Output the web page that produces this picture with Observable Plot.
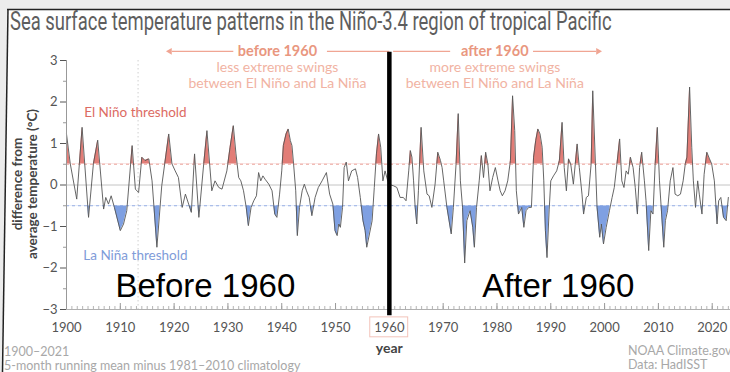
<!DOCTYPE html>
<html>
<head>
<meta charset="utf-8">
<script src="https://cdn.jsdelivr.net/npm/d3@7"></script>
<script src="https://cdn.jsdelivr.net/npm/@observablehq/plot@0.6"></script>
<style>
  html, body { margin: 0; padding: 0; background: #fff; }
  #wrap { position: relative; width: 730px; height: 372px; overflow: hidden; background: #fff; font-family: Lato, sans-serif; }
  #chart { position: absolute; left: 0; top: 0; }
  #overlay { position: absolute; left: 0; top: 0; pointer-events: none; }
</style>
</head>
<body>
<div id="wrap">
  <div id="chart"></div>
  <svg id="overlay" width="730" height="372">
    <rect x="0" y="0" width="730" height="9" fill="#ececec"></rect>
    <polygon points="0,0 8,0 8,9 2,372 0,372" fill="#ececec"></polygon>
    <line x1="7" y1="9.5" x2="730" y2="9.5" stroke="#222" stroke-width="1.5"></line>
    <line x1="8" y1="9" x2="2.5" y2="372" stroke="#222" stroke-width="1.5"></line>
    <text id="title" transform="translate(10,30)" font-family="Roboto, sans-serif" font-size="25" fill="#5e5e5e">Sea surface temperature patterns in the Niño-3.4 region of tropical Pacific</text>
    <text transform="translate(22,184) rotate(-90)" text-anchor="middle" font-family="Lato, sans-serif" font-weight="bold" font-size="13.5" fill="#444">difference from</text>
    <text transform="translate(37,184) rotate(-90)" text-anchor="middle" font-family="Lato, sans-serif" font-weight="bold" font-size="13.5" fill="#444">average temperature (°C)</text>
    <text x="4" y="356" font-family="Lato, sans-serif" font-size="12.5" fill="#a8a8a8">1900–2021</text>
    <text x="4" y="370" font-family="Lato, sans-serif" font-size="12.5" fill="#a8a8a8">5-month running mean minus 1981–2010 climatology</text>
    <text x="628" y="355" font-family="Lato, sans-serif" font-size="12.5" fill="#a8a8a8">NOAA Climate.gov</text>
    <text x="628" y="369" font-family="Lato, sans-serif" font-size="12.5" fill="#a8a8a8">Data: HadISST</text>
  </svg>
</div>
<script>
// ---- data (5-month running mean anomaly, °C) ----
const tYear = [
  1900.0,1900.7,1901.9,1902.9,1904.1,1905.0,1905.8,1906.9,1907.3,1907.8,1908.3,1908.9,1910.0,1910.6,1911.2,1912.2,1912.8,1913.4,1914.0,1914.6,
  1915.3,1915.9,1916.8,1917.7,1919.0,1919.6,1920.2,1920.8,1921.5,1922.1,1922.7,1923.2,1923.8,1924.6,1925.5,1926.1,1927.0,1927.6,1928.3,1928.9,
  1929.8,1930.4,1931.0,1931.5,1932.0,1932.4,1932.9,1933.4,1933.8,1934.3,1934.8,1935.3,1935.7,1936.1,1936.5,1936.9,1937.6,1938.2,1938.7,1939.1,
  1939.6,1940.0,1940.3,1940.8,1941.2,1941.6,1941.9,1942.2,1942.6,1942.9,1943.3,1943.8,1944.2,1944.6,1945.1,1945.6,1946.2,1946.8,1947.5,1948.3,
  1948.9,1949.5,1949.9,1950.3,1950.6,1950.9,1951.3,1951.6,1952.0,1952.4,1953.0,1953.7,1954.1,1954.6,1955.1,1955.5,1955.8,1956.3,1956.8,1957.2,
  1957.6,1958.0,1958.4,1958.8,1959.2,1959.7,1960.3,1960.8,1961.4,1962.0,1962.6,1963.1,1963.6,1963.9,1964.2,1964.5,1964.8,1965.1,1965.4,1965.9,
  1966.4,1967.0,1967.4,1967.9,1968.5,1969.0,1969.5,1969.8,1970.1,1970.7,1971.2,1971.5,1971.9,1972.4,1972.8,1973.2,1973.6,1974.0,1974.4,1975.0,
  1975.5,1975.8,1976.2,1976.7,1977.1,1977.5,1977.9,1978.3,1978.7,1979.2,1979.7,1980.2,1980.6,1981.0,1981.5,1982.0,1982.5,1982.9,1983.3,1983.6,
  1984.0,1984.6,1985.0,1985.4,1985.9,1986.4,1986.8,1987.2,1987.6,1988.0,1988.4,1988.7,1989.0,1989.3,1989.7,1990.0,1990.5,1991.1,1991.6,1992.1,
  1992.5,1992.9,1993.3,1993.7,1994.2,1994.9,1995.3,1995.8,1996.1,1996.6,1997.0,1997.5,1997.8,1998.3,1998.6,1999.1,1999.4,1999.8,2000.3,2000.9,
  2001.4,2001.8,2002.3,2002.8,2003.2,2003.6,2004.0,2004.4,2004.8,2005.3,2005.7,2006.1,2006.5,2006.9,2007.4,2007.7,2008.2,2008.6,2009.0,2009.4,
  2009.8,2010.2,2010.6,2011.0,2011.3,2011.7,2012.2,2012.7,2013.1,2013.6,2014.1,2014.6,2015.0,2015.3,2015.8,2016.2,2016.5,2016.9,2017.3,2017.6,
  2018.1,2018.5,2019.0,2019.5,2019.9,2020.4,2020.9,2021.2,2021.6,2022.1,2022.6,2023.0
];
const anomaly = [
  1.23,0.51,-0.34,1.39,-0.78,0.51,1.08,-0.58,-0.30,-0.46,-0.26,-0.54,-1.10,-0.94,-0.62,0.95,-0.10,-0.18,0.67,0.59,
  0.63,0.10,-1.50,-0.02,1.23,0.51,0.34,0.18,-0.54,-0.22,-0.46,-0.66,0.75,-0.78,0.51,1.31,-0.14,0.10,-0.06,-0.10,
  0.34,0.91,1.43,0.75,0.18,0.10,-0.14,-0.54,-0.98,-0.54,-0.38,-0.26,0.30,0.10,0.22,0.14,0.02,-0.14,-0.70,-0.78,
  -0.22,0.34,0.95,1.23,1.35,1.07,0.95,0.51,-0.14,-1.22,-0.54,-0.14,0.02,-0.14,-0.30,-0.74,-0.30,-0.06,0.10,0.30,
  -0.22,-0.46,-1.10,-1.22,-0.94,-1.02,-0.54,0.42,0.55,0.10,0.34,0.39,0.18,-0.30,-0.86,-1.10,-1.50,-1.18,-0.86,-0.06,
  0.75,1.23,0.91,0.10,0.34,0.10,0.00,-0.02,-0.06,-0.30,-0.30,-0.38,0.34,0.83,0.67,0.10,-0.54,-0.94,-0.14,1.39,
  0.34,-0.22,-0.26,-0.54,0.02,0.79,0.59,0.42,0.10,-0.54,-0.94,-1.18,-0.54,0.51,1.72,0.10,-0.54,-1.88,-0.86,-0.62,
  -1.02,-1.50,-0.54,0.10,0.71,0.18,0.79,0.51,-0.14,0.18,0.42,0.10,-0.14,-0.26,-0.14,0.10,0.59,2.15,1.31,-0.14,
  -0.70,-0.54,-1.02,-0.62,-0.54,-0.54,0.67,1.07,1.35,1.23,0.91,0.10,-1.10,-1.75,-0.60,0.10,0.22,0.34,0.59,1.51,
  0.42,-0.14,0.63,0.51,0.02,0.99,0.42,-0.22,-0.70,-0.30,-0.26,0.51,2.27,0.51,-0.54,-1.26,-0.94,-1.42,-1.02,-0.62,
  -0.30,-0.06,0.51,1.11,0.10,-0.06,0.34,0.26,0.67,0.42,-0.06,-0.70,0.42,0.79,0.10,-0.38,-1.58,-0.62,-0.70,0.51,
  1.39,0.10,-0.70,-1.50,-0.86,-0.62,0.10,0.42,-0.22,-0.26,-0.22,0.10,0.51,0.67,2.36,0.91,0.10,-0.54,0.10,-0.22,
  -0.70,0.26,0.79,0.63,0.51,0.10,-0.94,-0.38,-0.30,-0.78,-0.86,-0.30
];
const decadeTicks = [1900,1910,1920,1930,1940,1950,1960,1970,1980,1990,2000,2010,2020];
const yearTicks = d3.range(1900, 2024);
const yMajorTicks = [-3,-2,-1,0,1,2,3];
const yMinorTicks = [-2.5,-1.5,-0.5,0.5,1.5,2.5];
const elNinoThreshold = 0.5;
const laNinaThreshold = -0.5;
const splitYear = 1960;
const beforeLines = ["before 1960", "less extreme swings", "between El Niño and La Niña"];
const afterLines = ["after 1960", "more extreme swings", "between El Niño and La Niña"];
const thresholdLabels = ["El Niño threshold", "La Niña threshold"];
const bigLabels = ["Before 1960", "After 1960"];

const data = tYear.map((t, i) => ({t, v: anomaly[i]}));
const salmon = "#e9977f", salmonLight = "#f1b3a3", arrowColor = "#f0a593";

const chart = Plot.plot({
  width: 730,
  height: 372,
  marginLeft: 66,
  marginRight: 0,
  marginTop: 60,
  marginBottom: 63,
  style: {background: "transparent", fontFamily: "Lato, sans-serif", overflow: "visible"},
  x: {domain: [1900, 2023.4], axis: null},
  y: {domain: [-3, 3], axis: null},
  marks: [
    Plot.ruleX([1913.3], {stroke: "#cfcfcf", strokeDasharray: "1.5,2.5"}),
    Plot.ruleY([0], {stroke: "#c4c4c4", strokeWidth: 1}),
    Plot.ruleY([elNinoThreshold], {stroke: "#eba79f", strokeDasharray: "3,3", strokeWidth: 1}),
    Plot.ruleY([laNinaThreshold], {stroke: "#9db2e4", strokeDasharray: "3,3", strokeWidth: 1}),
    Plot.areaY(data, {x: "t", y1: elNinoThreshold, y2: "v", fill: "#e27d77"}),
    Plot.areaY(data, {x: "t", y1: laNinaThreshold, y2: "v", fill: "#7fa0e2"}),
    Plot.lineY(data, {x: "t", y: "v", stroke: "#555", strokeWidth: 0.9}),
    // axes
    Plot.ruleX([1900], {stroke: "#999"}),
    Plot.ruleY([-3], {stroke: "#b0b0b0"}),
    Plot.axisY({ticks: yMajorTicks, tickSize: 6, tickPadding: 3, fontSize: 13, color: "#555", label: null,
      tickFormat: d => d < 0 ? "\u2212" + Math.abs(d) : String(d)}),
    Plot.axisY({ticks: yMinorTicks, tickSize: 3, color: "#999", label: null, tickFormat: () => ""}),
    Plot.tickX(yearTicks, {x: d => d, insetTop: 246, stroke: "#b5b5b5"}),
    Plot.tickX(decadeTicks, {x: d => d, insetTop: 243, stroke: "#999"}),
    Plot.text(decadeTicks, {x: d => d, y: -3, dy: 18.5, text: d => String(d), fontSize: 13, fill: "#555"}),
    Plot.rect([splitYear], {x1: d => d - 3.55, x2: d => d + 3.5, y1: -3.19, y2: -3.67, fill: "none", stroke: "#f3c3ba"}),
    Plot.text(["year"], {x: splitYear, y: -3, dy: 39, fontSize: 14, fontWeight: "bold", fill: "#444"}),
    // annotations
    Plot.text([thresholdLabels[0]], {x: 1912.8, y: 1.74, fontSize: 13.5, fill: "#dc6b63"}),
    Plot.text([thresholdLabels[1]], {x: 1912.8, y: -1.70, fontSize: 13.5, fill: "#7f9cd9"}),
    Plot.link([0], {x1: 1931.0, x2: 1919.6, y1: 3.22, y2: 3.22, stroke: arrowColor, strokeWidth: 1.2}),
    Plot.dot([0], {x: 1919.2, y: 3.22, symbol: "triangle2", rotate: -90, r: 3.2, fill: arrowColor, stroke: "none"}),
    Plot.link([0], {x1: 1948.4, x2: splitYear, y1: 3.22, y2: 3.22, stroke: arrowColor, strokeWidth: 1.2}),
    Plot.link([0], {x1: 1960.7, x2: 1971.3, y1: 3.22, y2: 3.22, stroke: arrowColor, strokeWidth: 1.2}),
    Plot.link([0], {x1: 1986.7, x2: 1998.4, y1: 3.22, y2: 3.22, stroke: arrowColor, strokeWidth: 1.2}),
    Plot.dot([0], {x: 1998.8, y: 3.22, symbol: "triangle2", rotate: 90, r: 3.2, fill: arrowColor, stroke: "none"}),
    Plot.text([beforeLines[0]], {x: 1939.2, y: 3.22, fontSize: 14.5, fontWeight: "bold", fill: salmon}),
    Plot.text([beforeLines[1]], {x: 1939.2, y: 2.83, fontSize: 14, fill: salmonLight}),
    Plot.text([beforeLines[2]], {x: 1939.2, y: 2.44, fontSize: 14, fill: salmonLight}),
    Plot.text([afterLines[0]], {x: 1979.6, y: 3.22, fontSize: 14.5, fontWeight: "bold", fill: salmon}),
    Plot.text([afterLines[1]], {x: 1979.6, y: 2.83, fontSize: 14, fill: salmonLight}),
    Plot.text([afterLines[2]], {x: 1979.6, y: 2.44, fontSize: 14, fill: salmonLight}),
    Plot.ruleX([splitYear], {y1: 3.2, y2: -3.15, stroke: "#000", strokeWidth: 4.5}),
    Plot.text([bigLabels[0]], {x: 1925.8, y: -2.45, fontSize: 33, fontFamily: "Liberation Sans, Arial, sans-serif", fill: "#000"}),
    Plot.text([bigLabels[1]], {x: 1991.4, y: -2.45, fontSize: 33, fontFamily: "Liberation Sans, Arial, sans-serif", fill: "#000"})
  ]
});

document.getElementById("chart").appendChild(chart);

// condensed title: squeeze the natural width to the reference width
const titleEl = document.getElementById("title");
const natural = titleEl.getComputedTextLength();
if (natural > 0) titleEl.setAttribute("transform", `translate(10,30) scale(${602 / natural},1)`);

// clip the anomaly fills to the part beyond each threshold
const ys = chart.scale("y");
const yHi = ys.apply(elNinoThreshold), yLo = ys.apply(laNinaThreshold);
const svgSel = d3.select(chart.tagName.toLowerCase() === "svg" ? chart : chart.querySelector("svg"));
const defs = svgSel.insert("defs", ":first-child");
defs.append("clipPath").attr("id", "clipHi").append("rect").attr("x", 0).attr("y", 0).attr("width", 730).attr("height", yHi);
defs.append("clipPath").attr("id", "clipLo").append("rect").attr("x", 0).attr("y", yLo).attr("width", 730).attr("height", 372 - yLo);
const areas = svgSel.selectAll('g[aria-label="area"]').nodes();
if (areas[0]) areas[0].setAttribute("clip-path", "url(#clipHi)");
if (areas[1]) areas[1].setAttribute("clip-path", "url(#clipLo)");
</script>
</body>
</html>
